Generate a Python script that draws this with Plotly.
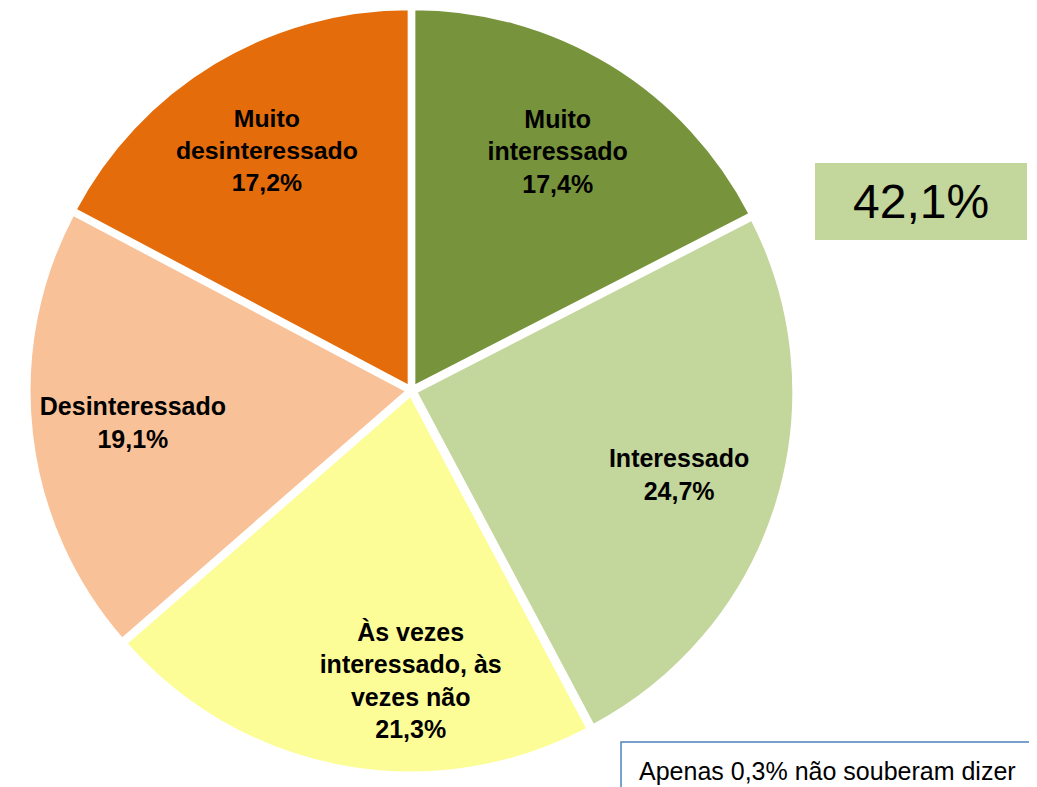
import plotly.graph_objects as go

W, H = 1037, 787
OFF = 8  # page body margin in the browser

# data
labels = ['Muito<br>interessado', 'Interessado', 'Às vezes<br>interessado, às<br>vezes não',
          'Desinteressado', 'Muito<br>desinteressado']
values = [17.4, 24.7, 21.3, 19.1, 17.2]
colors = ['#77933C', '#C3D69B', '#FDFD98', '#F9C197', '#E46C0A']
total_interest = '42,1%'
note = 'Apenas 0,3% não souberam dizer'


def px(x):
    return (x - OFF) / W


def py(y):
    return 1 - (y - OFF) / H


FONT = 'Liberation Sans, Arial, sans-serif'
dom = dict(x=[px(29), px(794)], y=[py(773), 1])

# filled pie
fig = go.Figure(
    go.Pie(
        labels=labels, values=values, sort=False, direction='clockwise',
        marker=dict(colors=colors, line=dict(color='white', width=3)),
        pull=[0.012] * len(values),
        textinfo='none', hoverinfo='label+value', showlegend=False, domain=dom,
    )
)
# invisible ring on top carrying the labels, so they sit toward the rim
fig.add_trace(
    go.Pie(
        labels=labels, values=values, sort=False, direction='clockwise',
        hole=0.46,
        marker=dict(colors=['rgba(0,0,0,0)'] * len(values), line=dict(width=0)),
        pull=[0.012] * len(values),
        texttemplate='<b>%{label}<br>%{value:.1f}%</b>',
        textposition='inside',
        insidetextorientation='horizontal',
        textfont=dict(family=FONT, size=25, color='black'),
        hoverinfo='skip', showlegend=False, domain=dom,
    )
)

# green box with the "interested" total
fig.add_shape(type='rect', xref='paper', yref='paper',
              x0=px(815), x1=px(1027), y0=py(240), y1=py(163),
              fillcolor='#C3D69B', line=dict(width=0), layer='below')
fig.add_annotation(x=px(921), y=py(202), xref='paper', yref='paper',
                   xanchor='center', yanchor='middle',
                   text=total_interest, showarrow=False,
                   font=dict(family=FONT, size=48, color='black'))

# footnote box
fig.add_shape(type='rect', xref='paper', yref='paper',
              x0=px(621), x1=px(1060), y0=py(810), y1=py(742),
              fillcolor='white', line=dict(color='#4F81BD', width=1.5))
fig.add_annotation(x=px(637), y=py(771), xref='paper', yref='paper',
                   xanchor='left', yanchor='middle', text=note, showarrow=False,
                   font=dict(family=FONT, size=25, color='black'))

fig.update_layout(
    width=W, height=H,
    margin=dict(l=0, r=0, t=0, b=0),
    paper_bgcolor='white',
    plot_bgcolor='white',
    separators=',.',
)

fig.write_html('out.html')
